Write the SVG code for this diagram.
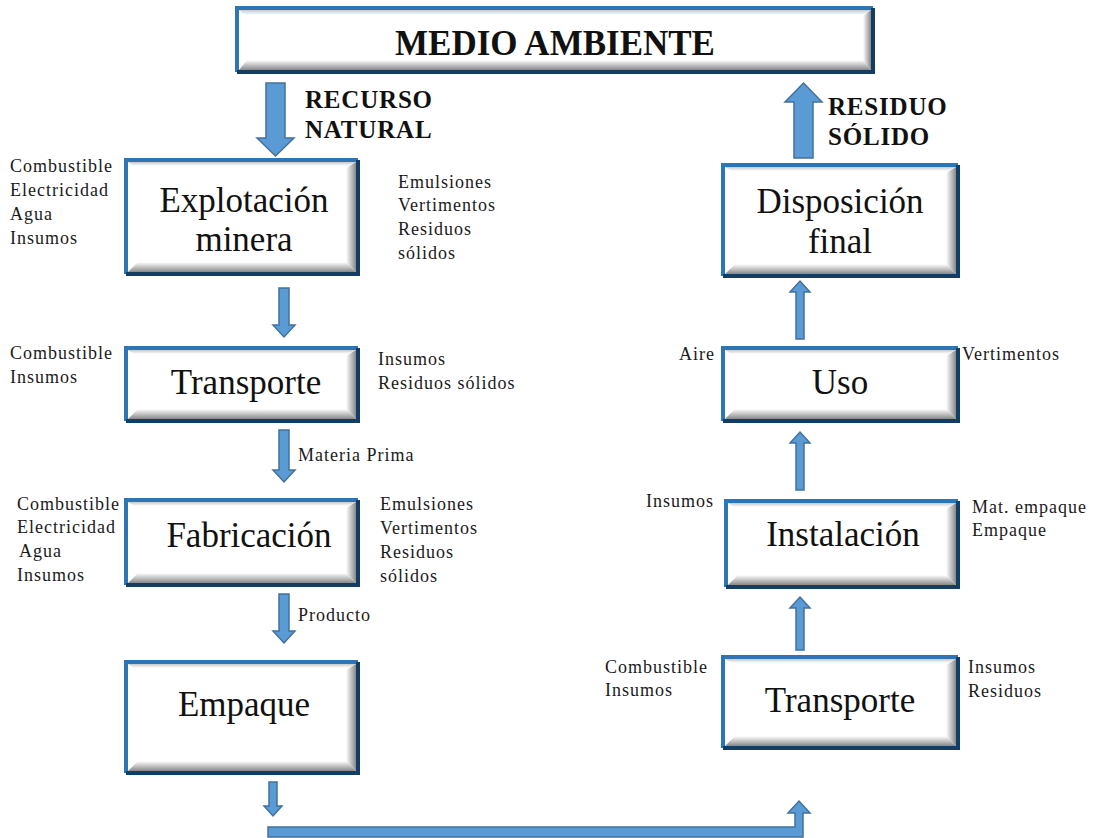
<svg xmlns="http://www.w3.org/2000/svg" width="1100" height="838" viewBox="0 0 1100 838">
<style>
.box{fill:#ffffff;}
.bt{fill:none;stroke:#2e75b6;stroke-width:4;}
.bb{fill:none;stroke:#143d63;stroke-width:4;}
.title{font-family:"Liberation Serif","Times New Roman",serif;font-size:35px;fill:#111;text-anchor:middle;}
.lbl{font-family:"Liberation Serif","Times New Roman",serif;font-size:18px;fill:#1a1a1a;letter-spacing:1px;}
.hdr{font-family:"Liberation Serif","Times New Roman",serif;font-size:25px;font-weight:bold;fill:#111;letter-spacing:0.8px;}
.arr{fill:#5b9bd5;stroke:#41719c;stroke-width:1.5;stroke-linejoin:miter;}
</style>
<defs>
<linearGradient id="gB" x1="0" y1="0" x2="0" y2="1"><stop offset="0" stop-color="#ffffff"/><stop offset="1" stop-color="#888888"/></linearGradient>
<linearGradient id="gR" x1="0" y1="0" x2="1" y2="0"><stop offset="0" stop-color="#ffffff"/><stop offset="1" stop-color="#888888"/></linearGradient>
<linearGradient id="gT" x1="0" y1="0" x2="0" y2="1"><stop offset="0" stop-color="#c8c8c8"/><stop offset="1" stop-color="#ffffff"/></linearGradient>
</defs>

<g id="n-medio">
<rect class="box" x="237" y="8" width="636" height="64"/>
<polygon points="239,10 871,10 863,15 245,15" fill="url(#gT)"/>
<polygon points="239,70 871,70 863,60 247,60" fill="url(#gB)"/>
<polygon points="871,10 871,70 863,60 863,16" fill="url(#gR)"/>
<path class="bt" d="M237,72 V8 H873"/>
<path class="bb" d="M873,8 V72 H237"/>
<text x="555" y="55" style="font-family:'Liberation Serif','Times New Roman',serif;font-size:35px;font-weight:bold;fill:#111;text-anchor:middle;">MEDIO AMBIENTE</text>
</g>

<g id="n-explotacion">
<rect class="box" x="126" y="160" width="232" height="114"/>
<polygon points="128,162 356,162 348,166 134,166" fill="url(#gT)"/>
<polygon points="128,272 356,272 346,262 138,262" fill="url(#gB)"/>
<polygon points="356,162 356,272 346,262 346,168" fill="url(#gR)"/>
<path class="bt" d="M126,274 V160 H358"/>
<path class="bb" d="M358,160 V274 H126"/>
<text class="title" x="244" y="212">Explotación</text>
<text class="title" x="244" y="251">minera</text>
</g>

<g id="n-transporte1">
<rect class="box" x="126" y="348" width="232" height="73"/>
<polygon points="128,350 356,350 348,354 134,354" fill="url(#gT)"/>
<polygon points="128,419 356,419 346,409 138,409" fill="url(#gB)"/>
<polygon points="356,350 356,419 346,409 346,356" fill="url(#gR)"/>
<path class="bt" d="M126,421 V348 H358"/>
<path class="bb" d="M358,348 V421 H126"/>
<text class="title" x="246" y="394">Transporte</text>
</g>

<g id="n-fabricacion">
<rect class="box" x="126" y="500" width="232" height="85"/>
<polygon points="128,502 356,502 348,506 134,506" fill="url(#gT)"/>
<polygon points="128,583 356,583 346,573 138,573" fill="url(#gB)"/>
<polygon points="356,502 356,583 346,573 346,508" fill="url(#gR)"/>
<path class="bt" d="M126,585 V500 H358"/>
<path class="bb" d="M358,500 V585 H126"/>
<text class="title" x="249" y="547">Fabricación</text>
</g>

<g id="n-empaque">
<rect class="box" x="126" y="662" width="232" height="111"/>
<polygon points="128,664 356,664 348,668 134,668" fill="url(#gT)"/>
<polygon points="128,771 356,771 346,761 138,761" fill="url(#gB)"/>
<polygon points="356,664 356,771 346,761 346,670" fill="url(#gR)"/>
<path class="bt" d="M126,773 V662 H358"/>
<path class="bb" d="M358,662 V773 H126"/>
<text class="title" x="244" y="716">Empaque</text>
</g>

<g id="n-disposicion">
<rect class="box" x="723" y="165" width="235" height="111"/>
<polygon points="725,167 956,167 948,171 731,171" fill="url(#gT)"/>
<polygon points="725,274 956,274 946,264 735,264" fill="url(#gB)"/>
<polygon points="956,167 956,274 946,264 946,173" fill="url(#gR)"/>
<path class="bt" d="M723,276 V165 H958"/>
<path class="bb" d="M958,165 V276 H723"/>
<text class="title" x="840" y="213">Disposición</text>
<text class="title" x="840" y="253">final</text>
</g>

<g id="n-uso">
<rect class="box" x="723" y="348" width="235" height="73"/>
<polygon points="725,350 956,350 948,354 731,354" fill="url(#gT)"/>
<polygon points="725,419 956,419 946,409 735,409" fill="url(#gB)"/>
<polygon points="956,350 956,419 946,409 946,356" fill="url(#gR)"/>
<path class="bt" d="M723,421 V348 H958"/>
<path class="bb" d="M958,348 V421 H723"/>
<text class="title" x="840" y="394">Uso</text>
</g>

<g id="n-instalacion">
<rect class="box" x="726" y="501" width="232" height="86"/>
<polygon points="728,503 956,503 948,507 734,507" fill="url(#gT)"/>
<polygon points="728,585 956,585 946,575 738,575" fill="url(#gB)"/>
<polygon points="956,503 956,585 946,575 946,509" fill="url(#gR)"/>
<path class="bt" d="M726,587 V501 H958"/>
<path class="bb" d="M958,501 V587 H726"/>
<text class="title" x="843" y="546">Instalación</text>
</g>

<g id="n-transporte2">
<rect class="box" x="723" y="657" width="235" height="91"/>
<polygon points="725,659 956,659 948,663 731,663" fill="url(#gT)"/>
<polygon points="725,746 956,746 946,736 735,736" fill="url(#gB)"/>
<polygon points="956,659 956,746 946,736 946,665" fill="url(#gR)"/>
<path class="bt" d="M723,748 V657 H958"/>
<path class="bb" d="M958,657 V748 H723"/>
<text class="title" x="840" y="712">Transporte</text>
</g>

<g id="connectors">
<polygon class="arr" points="266,83 285,83 285,138 294,138 275.5,156 257,138 266,138"/>
<polygon class="arr" points="794,158 813,158 813,102 822,102 803.5,83 785,102 794,102"/>
<polygon class="arr" points="279,288 289,288 289,325 295,325 284,337 273,325 279,325"/>
<polygon class="arr" points="279,430 289,430 289,470 295,470 284,482 273,470 279,470"/>
<polygon class="arr" points="279,594 289,594 289,631 295,631 284,643 273,631 279,631"/>
<polygon class="arr" points="269,782 277,782 277,806 282,806 273,816 264,806 269,806"/>
<polygon class="arr" points="268,827 795,827 795,813 788,813 799,801 810,813 803,813 803,837 268,837"/>
<polygon class="arr" points="796,339 804,339 804,292 810,292 800,281 790,292 796,292"/>
<polygon class="arr" points="796,490 804,490 804,443 810,443 800,432 790,443 796,443"/>
<polygon class="arr" points="796,650 804,650 804,608 810,608 800,597 790,608 796,608"/>
</g>

<g id="labels">
<text class="hdr" x="305" y="108">RECURSO</text>
<text class="hdr" x="305" y="138">NATURAL</text>
<text class="hdr" x="828" y="115">RESIDUO</text>
<text class="hdr" x="828" y="145">SÓLIDO</text>

<text class="lbl" x="10" y="172">Combustible</text>
<text class="lbl" x="10" y="196">Electricidad</text>
<text class="lbl" x="10" y="220">Agua</text>
<text class="lbl" x="10" y="244">Insumos</text>
<text class="lbl" x="398" y="188">Emulsiones</text>
<text class="lbl" x="398" y="211">Vertimentos</text>
<text class="lbl" x="398" y="235">Residuos</text>
<text class="lbl" x="398" y="259">sólidos</text>

<text class="lbl" x="10" y="359">Combustible</text>
<text class="lbl" x="10" y="383">Insumos</text>
<text class="lbl" x="378" y="365">Insumos</text>
<text class="lbl" x="378" y="389">Residuos sólidos</text>
<text class="lbl" x="298" y="461">Materia Prima</text>

<text class="lbl" x="17" y="510">Combustible</text>
<text class="lbl" x="17" y="533">Electricidad</text>
<text class="lbl" x="19" y="557">Agua</text>
<text class="lbl" x="17" y="581">Insumos</text>
<text class="lbl" x="380" y="510">Emulsiones</text>
<text class="lbl" x="380" y="534">Vertimentos</text>
<text class="lbl" x="380" y="558">Residuos</text>
<text class="lbl" x="380" y="582">sólidos</text>
<text class="lbl" x="298" y="621">Producto</text>

<text class="lbl" x="679" y="360">Aire</text>
<text class="lbl" x="962" y="360">Vertimentos</text>
<text class="lbl" x="646" y="507">Insumos</text>
<text class="lbl" x="972" y="513">Mat. empaque</text>
<text class="lbl" x="972" y="536">Empaque</text>
<text class="lbl" x="605" y="673">Combustible</text>
<text class="lbl" x="605" y="696">Insumos</text>
<text class="lbl" x="968" y="673">Insumos</text>
<text class="lbl" x="968" y="697">Residuos</text>
</g>
</svg>
